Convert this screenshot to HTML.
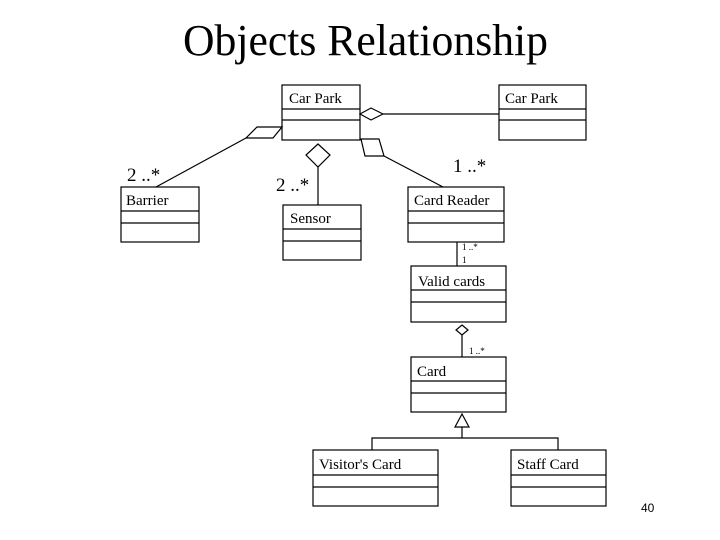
<!DOCTYPE html>
<html><head><style>body{margin:0;background:#fff}svg{display:block}</style></head>
<body>
<svg width="720" height="540" xmlns="http://www.w3.org/2000/svg" font-family="Liberation Serif, serif">
<rect width="720" height="540" fill="#fff"/>
<text x="183" y="55" font-size="44" textLength="365" lengthAdjust="spacingAndGlyphs">Objects Relationship</text>
<g fill="#fff" stroke="#000" stroke-width="1.2">
<rect x="282" y="85" width="78" height="55"/><line x1="282" y1="109" x2="360" y2="109"/><line x1="282" y1="120" x2="360" y2="120"/>
<rect x="499" y="85" width="87" height="55"/><line x1="499" y1="109" x2="586" y2="109"/><line x1="499" y1="120" x2="586" y2="120"/>
<rect x="121" y="187" width="78" height="55"/><line x1="121" y1="211" x2="199" y2="211"/><line x1="121" y1="223" x2="199" y2="223"/>
<rect x="283" y="205" width="78" height="55"/><line x1="283" y1="229" x2="361" y2="229"/><line x1="283" y1="241" x2="361" y2="241"/>
<rect x="408" y="187" width="96" height="55"/><line x1="408" y1="211" x2="504" y2="211"/><line x1="408" y1="223" x2="504" y2="223"/>
<rect x="411" y="266" width="95" height="56"/><line x1="411" y1="290" x2="506" y2="290"/><line x1="411" y1="302" x2="506" y2="302"/>
<rect x="411" y="357" width="95" height="55"/><line x1="411" y1="381" x2="506" y2="381"/><line x1="411" y1="393" x2="506" y2="393"/>
<rect x="313" y="450" width="125" height="56"/><line x1="313" y1="475" x2="438" y2="475"/><line x1="313" y1="487" x2="438" y2="487"/>
<rect x="511" y="450" width="95" height="56"/><line x1="511" y1="475" x2="606" y2="475"/><line x1="511" y1="487" x2="606" y2="487"/>
<line x1="383" y1="114" x2="499" y2="114"/>
<polygon points="360,114 371,108 383,114 371,120"/>
<line x1="246" y1="138" x2="156" y2="187"/>
<polygon points="282,127 257,127 246,138 273,138"/>
<line x1="318" y1="167" x2="318" y2="205"/>
<polygon points="318,144 330,155 318,167 306,155"/>
<line x1="384" y1="156" x2="443" y2="187"/>
<polygon points="361,139 379,139 384,156 365,156"/>
<line x1="457" y1="242" x2="457" y2="266"/>
<line x1="462" y1="335" x2="462" y2="357"/>
<polygon points="462,325 468,330 462,335 456,330"/>
<line x1="462" y1="427" x2="462" y2="438"/>
<polygon points="462,414 469,427 455,427"/>
<polyline fill="none" points="372,450 372,438 558,438 558,450"/>
</g>
<g font-size="15">
<text x="289" y="103">Car Park</text>
<text x="505" y="103">Car Park</text>
<text x="126" y="205">Barrier</text>
<text x="290" y="223">Sensor</text>
<text x="414" y="205">Card Reader</text>
<text x="418" y="286">Valid cards</text>
<text x="417" y="376">Card</text>
<text x="319" y="469">Visitor's Card</text>
<text x="517" y="469">Staff Card</text>
</g>
<g font-size="19">
<text x="127" y="181">2 ..*</text>
<text x="276" y="191">2 ..*</text>
<text x="453" y="172">1 ..*</text>
</g>
<g font-size="9">
<text x="462" y="250">1 ..*</text>
<text x="462" y="263">1</text>
<text x="469" y="354">1 ..*</text>
</g>
<text x="641" y="512" font-size="12" font-family="Liberation Sans, sans-serif">40</text>
</svg>
</body></html>
